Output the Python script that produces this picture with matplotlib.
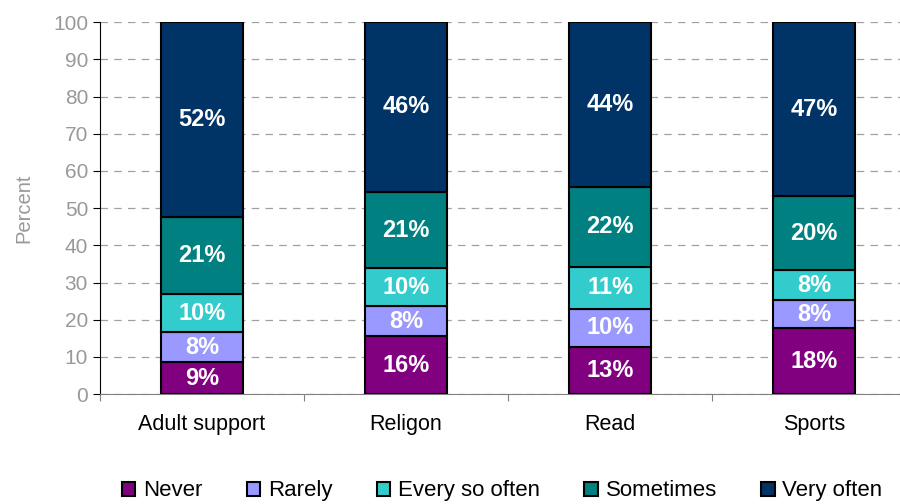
import matplotlib
matplotlib.use("Agg")
import matplotlib.pyplot as plt
import numpy as np

plt.rcParams["font.family"] = ["Liberation Sans", "DejaVu Sans"]

# Datos
categories = ["Adult support", "Religon", "Read", "Sports"]
series = ["Never", "Rarely", "Every so often", "Sometimes", "Very often"]
values = {
    "Never": [8.6, 15.6, 12.7, 17.7],
    "Rarely": [8.0, 8.0, 10.2, 7.6],
    "Every so often": [10.3, 10.2, 11.3, 8.0],
    "Sometimes": [20.8, 20.6, 21.5, 19.9],
    "Very often": [52.3, 45.6, 44.3, 46.8],
}
labels = {
    "Never": ["9%", "16%", "13%", "18%"],
    "Rarely": ["8%", "8%", "10%", "8%"],
    "Every so often": ["10%", "10%", "11%", "8%"],
    "Sometimes": ["21%", "21%", "22%", "20%"],
    "Very often": ["52%", "46%", "44%", "47%"],
}
colors = ["#800080", "#9999FF", "#33CCCC", "#008080", "#003366"]

fig = plt.figure(figsize=(9, 5.04), dpi=100)
ax = fig.add_axes([0.111, 0.218, 0.907, 0.738])

x = np.arange(len(categories))
bottom = np.zeros(len(categories))

for name, color in zip(series, colors):
    vals = np.array(values[name])
    ax.bar(
        x, vals, width=0.4, bottom=bottom, color=color,
        edgecolor="black", linewidth=1.5, label=name, zorder=3,
    )
    for xi, b, v, txt in zip(x, bottom, vals, labels[name]):
        ax.text(
            xi, b + v / 2, txt, ha="center", va="center",
            color="white", fontsize=17, fontweight="bold", zorder=4,
        )
    bottom += vals

ax.set_xlim(-0.5, len(categories) - 0.5)
ax.set_ylim(0, 100)
ax.set_yticks(np.arange(0, 101, 10))
ax.yaxis.grid(True, linestyle=(0, (6, 5)), color="#A0A0A0", linewidth=0.9, zorder=0)

# Marcas del eje x entre categorias
ax.set_xticks(np.arange(-0.5, len(categories), 1.0))
ax.set_xticklabels([])
ax.set_xticks(x, minor=True)
ax.set_xticklabels(categories, minor=True, fontsize=15.5)
ax.tick_params(axis="x", which="minor", length=0, pad=14)
ax.tick_params(axis="x", which="major", length=5, color="#808080", direction="out")
ax.tick_params(axis="y", length=5, labelsize=15, labelcolor="#999999", color="black")

for side in ["top", "right"]:
    ax.spines[side].set_visible(False)
ax.spines["left"].set_color("black")
ax.spines["bottom"].set_color("#808080")

ax.set_ylabel("Percent", fontsize=14.5, color="#999999", labelpad=14)

fig.legend(
    loc="center", bbox_to_anchor=(0.558, 0.026), ncol=5, frameon=False,
    fontsize=16, handlelength=0.6, handleheight=0.6, handletextpad=0.35,
    columnspacing=2.0,
)

fig.savefig("out.png", dpi=100)
